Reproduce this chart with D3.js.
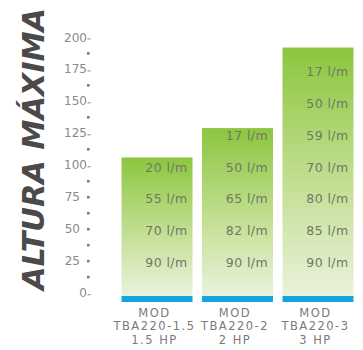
<!DOCTYPE html>
<html><head><meta charset="utf-8">
<script src="https://cdn.jsdelivr.net/npm/d3@7"></script>
<style>html,body{margin:0;padding:0;background:#fff;}svg{display:block;}</style>
</head><body>
<script>
const categories = ["MOD|TBA220-1.5|1.5 HP", "MOD|TBA220-2|2 HP", "MOD|TBA220-3|3 HP"];
const heights = [106, 129, 192];
const flowLevels = [25, 50, 75, 100, 125, 150, 175];
const flows1 = ["90 l/m", "70 l/m", "55 l/m", "20 l/m"];
const flows2 = ["90 l/m", "82 l/m", "65 l/m", "50 l/m", "17 l/m"];
const flows3 = ["90 l/m", "85 l/m", "80 l/m", "70 l/m", "59 l/m", "50 l/m", "17 l/m"];
const flows = [flows1, flows2, flows3];
const yTicks = [0, 25, 50, 75, 100, 125, 150, 175, 200];
const dashTicks = [0, 100, 125, 150, 175, 200];
const dotValues = [12.5, 25, 37.5, 50, 62.5, 75, 87.5, 112.5, 137.5, 162.5, 187.5];
const title = "ALTURA MÁXIMA";

const W = 363, H = 350;
const svg = d3.select("body").append("svg").attr("width", W).attr("height", H);

const y = d3.scaleLinear().domain([0, 200]).range([293, 37.3]);
const x = d3.scaleBand().domain(categories).range([117.5, 357.5]).paddingInner(0.118).paddingOuter(0.05);

const defs = svg.append("defs");
const grad = defs.append("linearGradient").attr("id", "g").attr("x1", 0).attr("y1", 0).attr("x2", 0).attr("y2", 1);
grad.append("stop").attr("offset", "0%").attr("stop-color", "#8cc63e");
grad.append("stop").attr("offset", "55%").attr("stop-color", "#c3df93");
grad.append("stop").attr("offset", "100%").attr("stop-color", "#eaf2dc");

// title
svg.append("text")
  .attr("transform", `translate(44,${(8 + 290) / 2}) rotate(-90)`)
  .attr("text-anchor", "middle")
  .attr("font-family", "'DejaVu Sans', 'Liberation Sans', sans-serif")
  .attr("font-weight", "bold").attr("font-style", "italic")
  .attr("font-size", 30)
  .attr("fill", "#4a4a4a")
  .attr("textLength", 282).attr("lengthAdjust", "spacingAndGlyphs")
  .text(title);

// y tick labels
const font = "'DejaVu Sans', sans-serif";
svg.append("g").selectAll("text").data(yTicks).join("text")
  .attr("x", d => dashTicks.includes(d) ? 87 : 80)
  .attr("y", d => y(d)).attr("dy", "0.35em")
  .attr("text-anchor", "end")
  .attr("font-family", font).attr("font-size", 12)
  .attr("fill", "#8a8a8a")
  .text(d => String(d));
svg.append("g").selectAll("rect").data(dashTicks).join("rect")
  .attr("x", 87.5).attr("y", d => y(d) + 1).attr("width", 3).attr("height", 1.2)
  .attr("fill", "#9a9a9a");
svg.append("g").selectAll("rect").data(dotValues).join("rect")
  .attr("x", 87).attr("y", d => y(d) - 1.2).attr("width", 2.6).attr("height", 2.6)
  .attr("fill", "#7a7a7a");

// bars
const bars = svg.append("g");
bars.selectAll("rect.bar").data(heights).join("rect").attr("class", "bar")
  .attr("x", (d, i) => x(categories[i])).attr("width", x.bandwidth())
  .attr("y", d => y(d)).attr("height", d => y(0) + 3 - y(d))
  .attr("fill", "url(#g)");
bars.selectAll("rect.base").data(heights).join("rect").attr("class", "base")
  .attr("x", (d, i) => x(categories[i])).attr("width", x.bandwidth())
  .attr("y", y(0) + 3).attr("height", 6)
  .attr("fill", "#17a3e2");

// flow labels
flows.forEach((arr, i) => {
  svg.append("g").selectAll("text").data(arr).join("text")
    .attr("x", x(categories[i]) + x.bandwidth() - 5)
    .attr("y", (d, j) => y(flowLevels[j]) + 2).attr("dy", "0.35em")
    .attr("text-anchor", "end")
    .attr("font-family", font).attr("font-size", 12.5)
    .attr("letter-spacing", 0.4)
    .attr("fill", "#6f7766")
    .text(d => d);
});

// x labels
categories.forEach((c, i) => {
  const lines = c.split("|");
  svg.append("g").selectAll("text").data(lines).join("text")
    .attr("x", x(c) + x.bandwidth() / 2 - 2.5)
    .attr("y", (d, j) => 312.5 + j * 13.5).attr("dy", "0.35em")
    .attr("text-anchor", "middle")
    .attr("font-family", font).attr("font-size", 11.5)
    .attr("letter-spacing", 1.5)
    .attr("fill", "#7a7a7a")
    .text(d => d);
});
</script>
</body></html>
